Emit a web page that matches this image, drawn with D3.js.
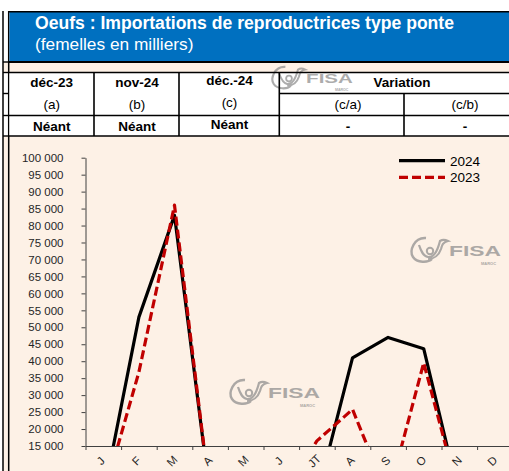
<!doctype html>
<html lang="fr">
<head>
  <meta charset="utf-8">
  <title>Oeufs : Importations de reproductrices type ponte</title>
  <script src="https://d3js.org/d3.v7.min.js"></script>
  <style>
    body { margin: 0; background: #ffffff; }
    svg { display: block; font-family: "Liberation Sans", Arial, sans-serif; }
  </style>
</head>
<body>
  <div id="my_dataviz"></div>

  <script>
    // data
    var months = ["J", "F", "M", "A", "M", "J", "JT", "A", "S", "O", "N", "D"];
    var values2024 = [0, 53000, 83000, 0, 0, 0, 0, 41000, 47000, 43700, 0, 0];
    var values2023 = [0, 36800, 86000, 0, 0, 0, 16500, 25800, 0, 39500, 0, 0];
    var yTicks = [15000, 20000, 25000, 30000, 35000, 40000, 45000, 50000, 55000,
      60000, 65000, 70000, 75000, 80000, 85000, 90000, 95000, 100000];

    // table above the chart
    var tableDates = ["déc-23", "nov-24", "déc.-24"];
    var tableLetters = ["(a)", "(b)", "(c)"];
    var tableValues = ["Néant", "Néant", "Néant"];
    var variationCols = ["(c/a)", "(c/b)"];
    var variationValues = ["-", "-"];

    var W = 509, H = 471;
    var beige = "#fdf1e6";

    var svg = d3.select("#my_dataviz")
      .append("svg")
      .attr("width", W)
      .attr("height", H);

    // backgrounds
    svg.append("rect").attr("x", 0).attr("y", 0).attr("width", W).attr("height", H).attr("fill", "#ffffff");
    svg.append("rect").attr("x", 3).attr("y", 62).attr("width", W).attr("height", 10).attr("fill", beige);
    svg.append("rect").attr("x", 3).attr("y", 136).attr("width", W).attr("height", H - 136).attr("fill", beige);

    // left strip (piece of the neighbouring table) and double border
    [62, 72.5, 93.5, 115.5, 136].forEach(function (y) {
      svg.append("line").attr("x1", 3).attr("x2", 9).attr("y1", y).attr("y2", y)
        .attr("stroke", "#000").attr("stroke-width", 1.4);
    });
    [3, 8.7].forEach(function (x) {
      svg.append("line").attr("x1", x).attr("x2", x).attr("y1", 11).attr("y2", H)
        .attr("stroke", "#000").attr("stroke-width", 1.5);
    });

    // blue header
    svg.append("rect").attr("x", 9.5).attr("y", 12).attr("width", W - 9.5).attr("height", 49.5).attr("fill", "#0070c0");
    svg.append("line").attr("x1", 9).attr("x2", W).attr("y1", 11.7).attr("y2", 11.7).attr("stroke", "#000").attr("stroke-width", 1.4);
    svg.append("line").attr("x1", 9).attr("x2", W).attr("y1", 62).attr("y2", 62).attr("stroke", "#000").attr("stroke-width", 2);
    svg.append("text").attr("x", 35).attr("y", 29)
      .attr("fill", "#fff").attr("font-size", 17.5).attr("font-weight", "bold")
      .attr("textLength", 419).attr("lengthAdjust", "spacingAndGlyphs")
      .text("Oeufs : Importations de reproductrices type ponte");
    svg.append("text").attr("x", 35).attr("y", 50)
      .attr("fill", "#fff").attr("font-size", 17.3)
      .text("(femelles en milliers)");

    // table
    svg.append("rect").attr("x", 9.5).attr("y", 72.5).attr("width", W - 9.5).attr("height", 63.5).attr("fill", "#fff");

    // FISA watermark, drawn as a small group
    function fisaLogo(tx, ty, s) {
      var g = svg.append("g")
        .attr("transform", "translate(" + tx + "," + ty + ") scale(" + s + ")")
        .attr("opacity", 0.7);
      g.append("path")
        .attr("d", "M16,1 C4,0 -1,14 3,20 C7,26 18,26 22,22")
        .attr("fill", "none").attr("stroke", "#8a8a8a").attr("stroke-width", 2.4);
      g.append("path")
        .attr("d", "M9,8 C11,14 13,19 18,20 C25,21 28,12 30,4 C33,2 36,3 38,4 C33,5 32,8 31,12 C29,18 24,22 18,22")
        .attr("fill", "none").attr("stroke", "#8a8a8a").attr("stroke-width", 2.2);
      g.append("circle").attr("cx", 20).attr("cy", 14).attr("r", 3.2)
        .attr("fill", "none").attr("stroke", "#8a8a8a").attr("stroke-width", 2);
      g.append("text").attr("x", 39).attr("y", 19.3)
        .attr("fill", "#8a8a8a").attr("font-size", 15).attr("font-weight", "bold")
        .attr("textLength", 52).attr("lengthAdjust", "spacingAndGlyphs").text("FISA");
      g.append("text").attr("x", 71).attr("y", 27.5)
        .attr("fill", "#8a8a8a").attr("font-size", 4).attr("font-weight", "bold").text("MAROC");
      return g;
    }
    fisaLogo(271, 66, 0.9);

    var vLines = [
      { x: 94, y1: 72.5, y2: 136 },
      { x: 179, y1: 72.5, y2: 136 },
      { x: 279.3, y1: 72.5, y2: 136 },
      { x: 404, y1: 93.5, y2: 136 }
    ];
    vLines.forEach(function (l) {
      svg.append("line").attr("x1", l.x).attr("x2", l.x).attr("y1", l.y1).attr("y2", l.y2)
        .attr("stroke", "#000").attr("stroke-width", 1.6);
    });
    var hLines = [
      { y: 72.5, x1: 9 }, { y: 93.5, x1: 279.3 }, { y: 115.5, x1: 9 }, { y: 136, x1: 9 }
    ];
    hLines.forEach(function (l) {
      svg.append("line").attr("x1", l.x1).attr("x2", W).attr("y1", l.y).attr("y2", l.y)
        .attr("stroke", "#000").attr("stroke-width", 1.6);
    });

    var colCenters = [51.7, 137, 229.5];
    var colShift = [0, 0, -2];
    tableDates.forEach(function (t, i) {
      svg.append("text").attr("x", colCenters[i]).attr("y", 87.3 + colShift[i])
        .attr("text-anchor", "middle").attr("font-size", 13.5).attr("font-weight", "bold").text(t);
      svg.append("text").attr("x", colCenters[i]).attr("y", 109 + colShift[i])
        .attr("text-anchor", "middle").attr("font-size", 13.5).text(tableLetters[i]);
      svg.append("text").attr("x", colCenters[i]).attr("y", 130.7 + colShift[i])
        .attr("text-anchor", "middle").attr("font-size", 13.5).attr("font-weight", "bold").text(tableValues[i]);
    });
    svg.append("text").attr("x", 402).attr("y", 87)
      .attr("text-anchor", "middle").attr("font-size", 13.5).attr("font-weight", "bold").text("Variation");
    var varCenters = [348, 465];
    variationCols.forEach(function (t, i) {
      svg.append("text").attr("x", varCenters[i]).attr("y", 109)
        .attr("text-anchor", "middle").attr("font-size", 13.5).text(t);
      svg.append("text").attr("x", varCenters[i]).attr("y", 131)
        .attr("text-anchor", "middle").attr("font-size", 13.5).attr("font-weight", "bold").text(variationValues[i]);
    });

    // chart
    var x0 = 85.5, step = 35.6, yBottom = 446, yTop = 157.7;

    var xb = d3.scaleLinear()
      .domain([0, months.length])
      .range([x0, x0 + months.length * step]);

    var y = d3.scaleLinear()
      .domain([15000, 100000])
      .range([yBottom, yTop]);

    var fr = d3.formatLocale({ decimal: ",", thousands: " ", grouping: [3], currency: ["", ""] });

    // watermarks behind the lines
    fisaLogo(410, 237, 1);
    fisaLogo(229, 379, 1);

    // Y axis
    var yAxis = svg.append("g")
      .attr("transform", "translate(" + x0 + ",0)")
      .call(d3.axisLeft(y).tickValues(yTicks).tickSize(4).tickSizeOuter(0).tickPadding(18)
        .tickFormat(fr.format(",")));
    yAxis.select(".domain").attr("stroke", "#404040");
    yAxis.selectAll(".tick line").attr("stroke", "#404040");
    yAxis.selectAll("text").attr("fill", "#262626").attr("font-size", 11.5)
      .attr("font-family", "Liberation Sans, Arial, sans-serif");

    // X axis, ticks between months
    var xAxis = svg.append("g")
      .attr("transform", "translate(0," + yBottom + ")")
      .call(d3.axisBottom(xb).tickValues(d3.range(0, months.length + 1)).tickSize(4).tickSizeOuter(0)
        .tickFormat(""));
    xAxis.select(".domain").attr("stroke", "#404040");
    xAxis.selectAll(".tick line").attr("stroke", "#404040");

    svg.append("g")
      .selectAll("text")
      .data(months)
      .enter()
      .append("text")
      .attr("transform", function (d, i) {
        return "translate(" + (xb(i + 0.5) - 2.5) + "," + 461 + ") rotate(-45)";
      })
      .attr("text-anchor", "middle")
      .attr("dominant-baseline", "central")
      .attr("font-size", 11.5)
      .attr("fill", "#262626")
      .text(function (d) { return d; });

    // clip the lines at the x axis
    svg.append("clipPath").attr("id", "plotclip")
      .append("rect").attr("x", x0).attr("y", 140).attr("width", W).attr("height", yBottom - 140);

    var line = d3.line()
      .x(function (d, i) { return xb(i + 0.5); })
      .y(function (d) { return y(d); });

    var plot = svg.append("g").attr("clip-path", "url(#plotclip)");

    plot.append("path")
      .datum(values2024)
      .attr("d", line)
      .attr("fill", "none")
      .attr("stroke", "#000")
      .attr("stroke-width", 3.2)
      .attr("stroke-linejoin", "round");

    plot.append("path")
      .datum(values2023)
      .attr("d", line)
      .attr("fill", "none")
      .attr("stroke", "#c00000")
      .attr("stroke-width", 3.2)
      .attr("stroke-dasharray", "9,4")
      .attr("stroke-linejoin", "round");

    // legend
    var legend = [
      { name: "2024", color: "#000", dash: null, y: 160.7 },
      { name: "2023", color: "#c00000", dash: "9,4", y: 177.3 }
    ];
    legend.forEach(function (l) {
      svg.append("line").attr("x1", 399).attr("x2", 445).attr("y1", l.y).attr("y2", l.y)
        .attr("stroke", l.color).attr("stroke-width", 3.2).attr("stroke-dasharray", l.dash);
      svg.append("text").attr("x", 450).attr("y", l.y + 5)
        .attr("font-size", 13.5).attr("fill", "#000").text(l.name);
    });
  </script>
</body>
</html>
